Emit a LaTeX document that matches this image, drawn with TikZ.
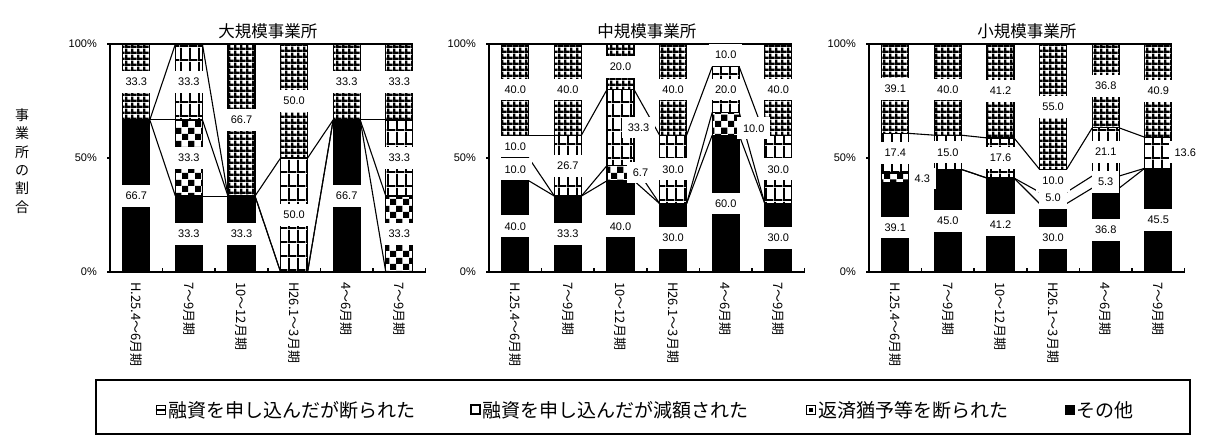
\documentclass[tikz,border=0pt]{standalone}
\usepackage{fontspec}
\setmainfont{Liberation Sans}
\newfontfamily\jpfont{Noto Sans CJK JP}
\usetikzlibrary{patterns,positioning}

\pgfdeclarepatternformonly{finegrid}{\pgfpointorigin}{\pgfpoint{5.7bp}{5.7bp}}{\pgfpoint{5.7bp}{5.7bp}}{%
  \pgfpathrectangle{\pgfpointorigin}{\pgfpoint{2.4bp}{5.7bp}}%
  \pgfpathrectangle{\pgfpointorigin}{\pgfpoint{5.7bp}{2.4bp}}%
  \pgfusepath{fill}}
\pgfdeclarepatternformonly{coarsegrid}{\pgfpointorigin}{\pgfpoint{9bp}{14bp}}{\pgfpoint{9bp}{14bp}}{%
  \pgfpathrectangle{\pgfpointorigin}{\pgfpoint{2bp}{14bp}}%
  \pgfpathrectangle{\pgfpointorigin}{\pgfpoint{9bp}{2bp}}%
  \pgfusepath{fill}}
\pgfdeclarepatternformonly{bigchecker}{\pgfpointorigin}{\pgfpoint{13bp}{13bp}}{\pgfpoint{13bp}{13bp}}{%
  \pgfpathrectangle{\pgfpointorigin}{\pgfpoint{6.5bp}{6.5bp}}%
  \pgfpathrectangle{\pgfpoint{6.5bp}{6.5bp}}{\pgfpoint{6.5bp}{6.5bp}}%
  \pgfusepath{fill}}

\tikzset{
  otherseg/.style={fill=black, draw=black, line width=1.2bp},
  deferseg/.style={pattern=bigchecker, draw=black, line width=1.2bp},
  cutseg/.style={pattern=coarsegrid, draw=black, line width=1.2bp},
  refuseseg/.style={pattern=finegrid, draw=black, line width=1.2bp},
  serline/.style={line width=1.1bp},
  axisline/.style={line width=1.6bp},
  vallabel/.style={fill=white, inner xsep=6bp, inner ysep=7bp, font=\fontsize{11bp}{13bp}\selectfont},
  ticklabel/.style={anchor=east, inner sep=0pt, font=\fontsize{11bp}{13bp}\selectfont},
  catlabel/.style={rotate=-90, anchor=west, inner sep=0pt, font=\jpfont\fontsize{13bp}{15bp}\selectfont},
  paneltitle/.style={font=\jpfont\fontsize{16.5bp}{19bp}\selectfont},
  legicon/.style={draw=black, line width=1.6bp, minimum size=9bp, inner sep=0pt},
  legtext/.style={inner sep=0pt, font=\jpfont\fontsize{19bp}{22bp}\selectfont}
}

\newcommand{\chartpanel}[5]{%
  \begin{scope}[shift={(#2,167)}, y=2.28bp]
    \node[paneltitle] (#1-title) at (157.8,105.7) {#3};
    \foreach \i/\ya/\yb/\yc in {#4}{
      \pgfmathsetmacro{\xl}{52.6*(\i-1)+12.8}
      \pgfmathsetmacro{\xr}{\xl+27}
      \filldraw[otherseg] (\xl,0) rectangle (\xr,\ya);
      \filldraw[deferseg] (\xl,\ya) rectangle (\xr,\yb);
      \filldraw[cutseg] (\xl,\yb) rectangle (\xr,\yc);
      \filldraw[refuseseg] (\xl,\yc) rectangle (\xr,100);
      \coordinate (#1-\i-1-l) at (\xl,\ya);
      \coordinate (#1-\i-1-r) at (\xr,\ya);
      \coordinate (#1-\i-2-l) at (\xl,\yb);
      \coordinate (#1-\i-2-r) at (\xr,\yb);
      \coordinate (#1-\i-3-l) at (\xl,\yc);
      \coordinate (#1-\i-3-r) at (\xr,\yc);
      \coordinate (#1-\i-4-r) at (\xr,100);
    }
    \foreach \i/\j in {1/2,2/3,3/4,4/5,5/6}
      \foreach \k in {1,2,3}
        \draw[serline] (#1-\i-\k-r) -- (#1-\j-\k-l);
    \draw[serline] (0,100) -- (#1-6-4-r);
    \draw[axisline] (0,100) -- (0,0) -- (315.6,0);
    \foreach \p in {0,50,100}{
      \draw[axisline] (-3,\p) -- (0,\p);
      \node[ticklabel] (#1-t\p) at (-13,\p) {\p\%};
    }
    \foreach \k in {1,...,6}
      \draw[axisline] ({52.6*\k},0) -- ({52.6*\k},1.75);
    \foreach \i/\txt in {1/H.25.4～6月期, 2/7～9月期, 3/10～12月期, 4/H26.1～3月期, 5/4～6月期, 6/7～9月期}
      \node[catlabel] (#1-c\i) at ({26.3+52.6*(\i-1)},-4.4) {\txt};
    \foreach \i/\p/\txt/\dx [count=\n] in {#5}
      \node[vallabel] (#1-v\n) at ({26.3+52.6*(\i-1)+\dx},\p) {\txt};
  \end{scope}}

\begin{document}
\begin{tikzpicture}[x=1bp, y=1bp]
  \useasboundingbox (0,0) rectangle (1223,439);

  \node[align=center, font=\jpfont\fontsize{14bp}{18.4bp}\selectfont] (ytitle) at (22,278)
    {事\\業\\所\\の\\割\\合};

  \chartpanel{big}{110}{大規模事業所}
    {1/66.7/66.7/66.7, 2/33.3/66.7/100, 3/33.3/33.3/33.3, 4/0/0/50, 5/66.7/66.7/66.7, 6/0/33.3/66.7}
    {1/33.35/66.7/0, 1/83.35/33.3/0, 2/16.65/33.3/0, 2/50/33.3/0, 2/83.35/33.3/0,
     3/16.65/33.3/0, 3/66.65/66.7/0, 4/25/50.0/0, 4/75/50.0/0, 5/33.35/66.7/0,
     5/83.35/33.3/0, 6/16.65/33.3/0, 6/50/33.3/0, 6/83.35/33.3/0}

  \chartpanel{mid}{489}{中規模事業所}
    {1/40/50/60, 2/33.3/33.3/60, 3/40/46.7/80, 4/30/30/60, 5/60/70/90, 6/30/30/60}
    {1/20/40.0/0, 1/45/10.0/0, 1/55/10.0/0, 1/80/40.0/0, 2/16.65/33.3/0, 2/46.65/26.7/0,
     2/80/40.0/0, 3/20/40.0/0, 3/43.6/6.7/20, 3/63.35/33.3/18, 3/90/20.0/0, 4/15/30.0/0,
     4/45/30.0/0, 4/80/40.0/0, 5/30/60.0/0, 5/63/10.0/28, 5/80/20.0/0, 5/95.3/10.0/0,
     6/15/30.0/0, 6/45/30.0/0, 6/80/40.0/0}

  \chartpanel{small}{869}{小規模事業所}
    {1/39.1/43.4/60.8, 2/45/45/60, 3/41.2/41.2/58.8, 4/30/35/45, 5/36.8/42.1/63.2, 6/45.5/45.5/59.1}
    {1/19.55/39.1/0, 1/41/4.3/27, 1/52.1/17.4/0, 1/80.4/39.1/0, 2/22.5/45.0/0, 2/52.5/15.0/0,
     2/80/40.0/0, 3/20.6/41.2/0, 3/50/17.6/0, 3/79.4/41.2/0, 4/15/30.0/0, 4/32.5/5.0/0,
     4/40/10.0/0, 4/72.5/55.0/0, 5/18.4/36.8/0, 5/39.5/5.3/0, 5/52.65/21.1/0, 5/81.6/36.8/0,
     6/22.75/45.5/0, 6/52.5/13.6/27, 6/79.55/40.9/0}

  \node[draw, line width=1.6bp, minimum width=1094bp, minimum height=54bp, inner sep=0pt] (legend) at (643,32) {};
  \node[legicon] (ico1) at (161,29) {};
  \draw[line width=1.4bp] (ico1.west) -- (ico1.east);
  \node[legicon, line width=2bp] (ico2) at (475,29) {};
  \node[legicon] (ico3) at (811,29) {};
  \node[fill=black, minimum size=4bp, inner sep=0pt] (ico3in) at (ico3) {};
  \node[legicon, fill=black] (ico4) at (1070,29) {};
  \node[legtext] (leg1) [right=2bp of ico1] {融資を申し込んだが断られた};
  \node[legtext] (leg2) [right=2bp of ico2] {融資を申し込んだが減額された};
  \node[legtext] (leg3) [right=2bp of ico3] {返済猶予等を断られた};
  \node[legtext] (leg4) [right=1bp of ico4] {その他};
\end{tikzpicture}
\end{document}
